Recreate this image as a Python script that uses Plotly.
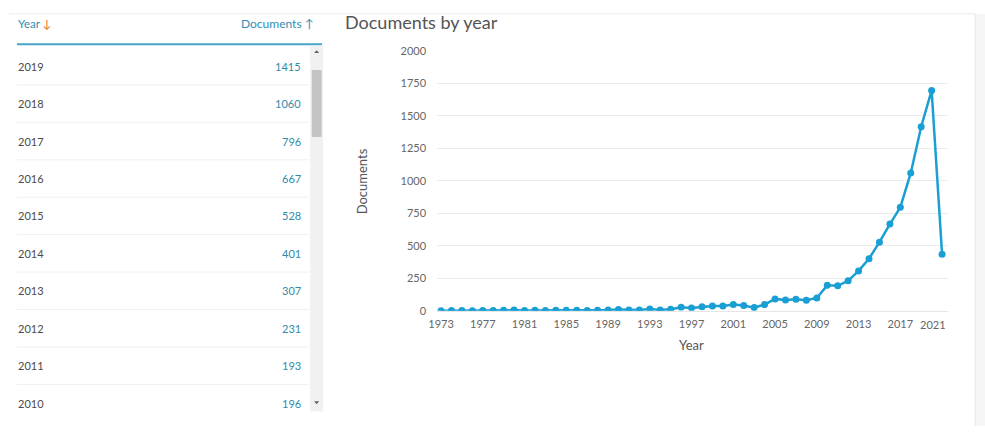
import plotly.graph_objects as go

# ---------------- data ----------------
years = list(range(1973, 2022))
docs = [1, 2, 2, 1, 2, 3, 4, 6, 2, 4, 3, 4, 5, 4, 3, 5, 6, 10, 7, 6,
        14, 6, 12, 28, 22, 32, 37, 37, 49, 42, 25, 49, 92, 84, 89, 82, 99,
        196, 193, 231, 307, 401, 528, 667, 796, 1060, 1415, 1694, 435]
tick_years = list(range(1973, 2018, 4))
tick_labels = [str(y) for y in tick_years]
last_tick_year = 2021
table_years = list(range(2019, 2009, -1))
table_docs = [docs[years.index(y)] for y in table_years]

# ---------------- layout helpers ----------------
W, H = 985, 432
def px(x): return x / W
def py(y): return 1 - y / H

FONT = "Lato, 'Open Sans', sans-serif"
LINE_COLOR = "#1a9fd4"
TEAL = "#2f8fb3"
ORANGE = "#e8731f"

fig = go.Figure()
fig.add_trace(go.Scatter(
    x=years, y=docs, mode="lines+markers",
    line=dict(color=LINE_COLOR, width=2.5),
    marker=dict(color=LINE_COLOR, size=7),
    hoverinfo="x+y", showlegend=False))

shapes = []
annotations = []

# panel frame
shapes.append(dict(type="line", xref="paper", yref="paper", x0=0, x1=px(975), y0=py(7), y1=py(7),
                   line=dict(color="#ececec", width=1)))
shapes.append(dict(type="rect", xref="paper", yref="paper", x0=px(975), x1=1, y0=0, y1=py(7),
                   line=dict(width=0), fillcolor="#f6f6f6"))
shapes.append(dict(type="line", xref="paper", yref="paper", x0=px(975), x1=px(975), y0=0, y1=py(7),
                   line=dict(color="#e6e6e6", width=1)))

# ---- table (left) ----
annotations.append(dict(xref="paper", yref="paper", x=px(7), y=py(17), xanchor="left", yanchor="middle",
                        text=f"<span style='color:{TEAL}'>Year</span> <span style='color:{ORANGE}'>↓</span>",
                        showarrow=False, font=dict(family=FONT, size=11.5, color=TEAL)))
annotations.append(dict(xref="paper", yref="paper", x=px(310), y=py(17), xanchor="right", yanchor="middle",
                        text="Documents ↑", showarrow=False, font=dict(family=FONT, size=12, color=TEAL)))
shapes.append(dict(type="line", xref="paper", yref="paper", x0=px(8), x1=px(316), y0=py(38.5), y1=py(38.5),
                   line=dict(color="#4aa3c8", width=2)))
row0, step = 61, 38.6
for i, (yr, dv) in enumerate(zip(table_years, table_docs)):
    yc = row0 + i * step
    annotations.append(dict(xref="paper", yref="paper", x=px(7), y=py(yc), xanchor="left", yanchor="middle",
                            text=str(yr), showarrow=False, font=dict(family=FONT, size=11, color="#4a4a4a")))
    annotations.append(dict(xref="paper", yref="paper", x=px(297), y=py(yc), xanchor="right", yanchor="middle",
                            text=str(dv), showarrow=False, font=dict(family=FONT, size=11, color="#2f8aac")))
    if i < len(table_years) - 1:
        ys = yc + step / 2
        shapes.append(dict(type="line", xref="paper", yref="paper", x0=px(8), x1=px(303), y0=py(ys), y1=py(ys),
                           line=dict(color="#f0f0f0", width=1)))
# scrollbar
shapes.append(dict(type="rect", xref="paper", yref="paper", x0=px(304), x1=px(317), y0=py(417), y1=py(40),
                   line=dict(width=0), fillcolor="#f1f1f1"))
shapes.append(dict(type="rect", xref="paper", yref="paper", x0=px(305.5), x1=px(315.5), y0=py(134), y1=py(65),
                   line=dict(width=0), fillcolor="#c3c3c3"))
shapes.append(dict(type="path", xref="paper", yref="paper",
                   path=f"M {px(308)} {py(47.5)} L {px(313)} {py(47.5)} L {px(310.5)} {py(44.5)} Z",
                   line=dict(width=0), fillcolor="#606060"))
shapes.append(dict(type="path", xref="paper", yref="paper",
                   path=f"M {px(308)} {py(406.5)} L {px(313)} {py(406.5)} L {px(310.5)} {py(409.5)} Z",
                   line=dict(width=0), fillcolor="#606060"))

# ---- chart texts ----
annotations.append(dict(xref="paper", yref="paper", x=px(337), y=py(15), xanchor="left", yanchor="middle",
                        text="Documents by year", showarrow=False, font=dict(family=FONT, size=18, color="#555555")))
annotations.append(dict(xref="paper", yref="paper", x=px(356), y=py(180), xanchor="center", yanchor="middle",
                        text="Documents", textangle=-90, showarrow=False, font=dict(family=FONT, size=13, color="#555555")))
annotations.append(dict(xref="paper", yref="paper", x=px(689), y=py(349), xanchor="center", yanchor="middle",
                        text="Year", showarrow=False, font=dict(family=FONT, size=13, color="#555555")))
annotations.append(dict(xref="x", yref="paper", x=last_tick_year, y=py(327), xanchor="right", yanchor="middle",
                        xshift=6, text=str(last_tick_year), showarrow=False,
                        font=dict(family=FONT, size=11, color="#666666")))

fig.update_layout(
    width=W, height=H, margin=dict(l=0, r=0, t=0, b=0),
    paper_bgcolor="white", plot_bgcolor="white",
    shapes=shapes, annotations=annotations,
    xaxis=dict(domain=[px(432), px(948)], range=[1972.62, 2021.6],
               tickvals=tick_years, ticktext=tick_labels, showgrid=False, zeroline=False,
               showline=True, linecolor="#e6e6e6", linewidth=1,
               tickfont=dict(family=FONT, size=11, color="#666666"), ticklabelstandoff=3),
    yaxis=dict(domain=[py(313.3), py(45)], range=[0, 2000], dtick=250,
               gridcolor="#ebebeb", zeroline=False, showline=False,
               tickfont=dict(family=FONT, size=11, color="#666666"), ticklabelstandoff=10),
)

fig.write_html("out.html")
